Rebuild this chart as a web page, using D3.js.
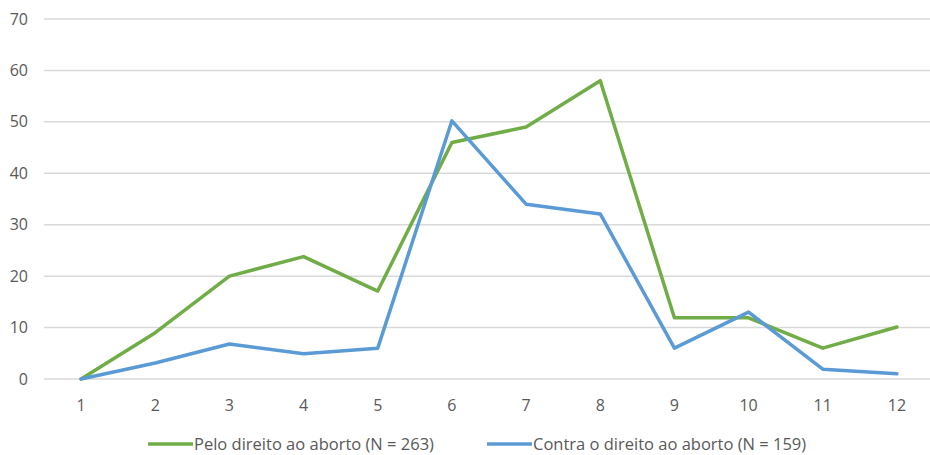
<!DOCTYPE html>
<meta charset="utf-8">
<script src="https://d3js.org/d3.v7.min.js"></script>
<style>
  body { margin: 0; background: #fff; }
  text { font-family: "Open Sans", "Noto Sans", sans-serif; fill: #595959; }
</style>
<div id="my_dataviz"></div>
<script>

// data
var categories = [1, 2, 3, 4, 5, 6, 7, 8, 9, 10, 11, 12];
var pelo = [0, 9, 20, 23.8, 17.1, 46, 49, 58, 11.9, 11.9, 6, 10.1];
var contra = [0, 3.1, 6.8, 4.9, 6, 50.2, 34, 32.1, 6, 13, 1.9, 1];
var yTicks = [0, 10, 20, 30, 40, 50, 60, 70];
var seriesNames = ["Pelo direito ao aborto (N = 263)", "Contra o direito ao aborto (N = 159)"];

var width = 930, height = 455;

var svg = d3.select("#my_dataviz")
  .append("svg")
    .attr("width", width)
    .attr("height", height);

// x: one band per category, y linear 0-70
var x = d3.scaleBand()
  .domain(categories)
  .range([44, 934]);

var y = d3.scaleLinear()
  .domain([0, 70])
  .range([379, 19]);

// grid lines
svg.append("g")
  .selectAll("line")
  .data(yTicks)
  .enter()
  .append("line")
    .attr("x1", 44)
    .attr("x2", 934)
    .attr("y1", function (d) { return y(d); })
    .attr("y2", function (d) { return y(d); })
    .style("stroke", "#d9d9d9")
    .style("stroke-width", 1.5);

// y labels
svg.append("g")
  .selectAll("text")
  .data(yTicks)
  .enter()
  .append("text")
    .attr("x", 28)
    .attr("y", function (d) { return y(d); })
    .attr("dy", "0.35em")
    .attr("text-anchor", "end")
    .style("font-size", "16px")
    .text(function (d) { return d; });

// x labels
svg.append("g")
  .selectAll("text")
  .data(categories)
  .enter()
  .append("text")
    .attr("x", function (d) { return x(d) + x.bandwidth() / 2; })
    .attr("y", 405)
    .attr("dy", "0.35em")
    .attr("text-anchor", "middle")
    .style("font-size", "16px")
    .text(function (d) { return d; });

var line = d3.line()
  .x(function (d, i) { return x(categories[i]) + x.bandwidth() / 2; })
  .y(function (d) { return y(d); });

var colors = ["#70ad47", "#5b9bd5"];

[pelo, contra].forEach(function (s, i) {
  svg.append("path")
    .datum(s)
    .attr("d", line)
    .style("fill", "none")
    .style("stroke", colors[i])
    .style("stroke-width", 3.5)
    .style("stroke-linejoin", "round")
    .style("stroke-linecap", "round");
});

// legend
var legendX = [148, 487];
seriesNames.forEach(function (name, i) {
  var g = svg.append("g").attr("transform", "translate(" + legendX[i] + ",444)");
  g.append("line")
    .attr("x1", 0).attr("x2", 45)
    .style("stroke", colors[i])
    .style("stroke-width", 3.5);
  g.append("text")
    .attr("x", 46)
    .attr("dy", "0.35em")
    .style("font-size", "16.5px")
    .text(name);
});

</script>
